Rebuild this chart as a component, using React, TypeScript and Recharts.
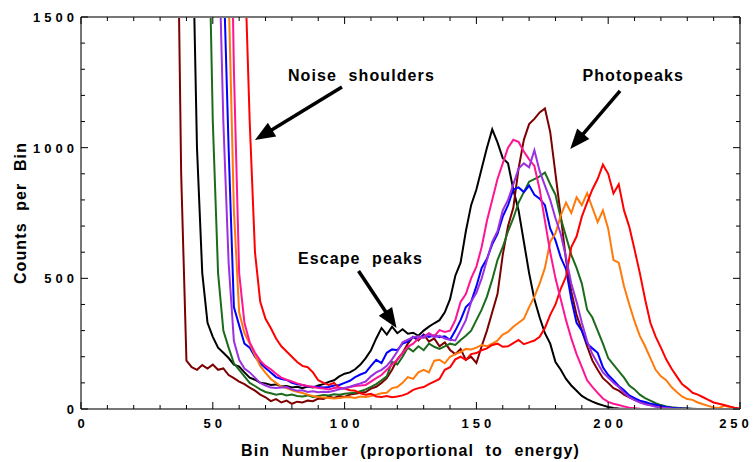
import React from 'react';
import { LineChart, Line, XAxis, YAxis, ReferenceLine, ReferenceDot } from 'recharts';

// Spectra sampled every 2 bins, starting at each series' own first bin.
const binStep = 2;

const maroonStart = 36;
const maroonCounts = [
  2400, 900, 185, 160, 150, 168, 155, 170, 150, 155, 130, 118, 105, 95, 82, 70, 55, 45, 30, 38,
  25, 32, 20, 28, 25, 32, 30, 40, 38, 48, 42, 50, 46, 55, 58, 62, 65, 78, 85, 100,
  118, 150, 190, 215, 250, 276, 262, 285, 258, 270, 240, 255, 226, 210, 230, 188, 200, 176, 240, 300,
  370, 440, 590, 700, 770, 920, 1030, 1090, 1110, 1135, 1150, 1060, 900, 740, 570, 450, 360, 300, 240, 185,
  150, 118, 100, 80, 70, 55, 45, 35, 28, 20, 15, 12, 8, 6, 4, 3, 2, 1, 0, 0,
  0, 0, 0, 0, 0, 0, 0,
];

const blackStart = 42;
const blackCounts = [
  2000, 1000, 520, 330, 276, 235, 215, 195, 170, 162, 140, 120, 112, 100, 98, 92, 94, 86, 88, 82,
  85, 80, 86, 82, 90, 95, 104, 110, 125, 135, 140, 152, 170, 195, 225, 270, 310, 285, 315, 290,
  305, 288, 292, 280, 300, 315, 328, 340, 370, 420, 510, 560, 680, 780, 840, 920, 1000, 1070, 1020, 960,
  940, 840, 760, 640, 520, 420, 350, 290, 250, 180, 150, 115, 90, 70, 50, 38, 28, 20, 14, 8,
  4, 2, 1, 0, 0, 0, 0, 0, 0, 0, 0, 0, 0, 0, 0, 0, 0, 0, 0, 0,
  0, 0, 0, 0,
];

const greenStart = 48;
const greenCounts = [
  2100, 1100, 520, 300, 235, 175, 150, 125, 100, 88, 75, 65, 60, 55, 58, 52, 55, 50, 48, 52,
  46, 50, 54, 52, 56, 55, 58, 60, 62, 68, 75, 85, 95, 110, 125, 180, 170, 200, 235, 220,
  240, 225, 250, 238, 230, 240, 250, 245, 264, 280, 300, 340, 380, 430, 495, 570, 620, 680, 730, 790,
  830, 870, 880, 890, 905, 860, 820, 730, 660, 590, 540, 480, 380, 350, 300, 250, 195, 170, 145, 120,
  90, 75, 55, 42, 32, 22, 15, 10, 7, 5, 3, 2, 1, 0, 0, 0, 0, 0, 0, 0,
  0, 0,
];

const purpleStart = 52;
const purpleCounts = [
  1900, 1100, 560, 260, 188, 155, 140, 120, 100, 90, 82, 80, 82, 84, 75, 70, 72, 65, 68, 64,
  66, 65, 70, 75, 80, 85, 92, 98, 105, 125, 140, 150, 165, 190, 220, 255, 265, 275, 278, 272,
  285, 275, 280, 270, 265, 262, 300, 340, 410, 445, 500, 570, 640, 680, 760, 800, 860, 920, 940, 925,
  990, 910, 855, 800, 730, 670, 580, 480, 410, 330, 260, 210, 175, 140, 120, 100, 84, 62, 45, 34,
  25, 18, 14, 9, 6, 4, 2, 1, 0, 0, 0, 0, 0, 0, 0, 0, 0, 0, 0, 0,
];

const blueStart = 54;
const blueCounts = [
  1700, 1000, 390, 320, 250, 235, 200, 175, 157, 140, 122, 115, 111, 100, 95, 92, 86, 85, 84, 82,
  84, 90, 92, 100, 108, 122, 132, 140, 165, 188, 176, 215, 228, 225, 250, 258, 276, 268, 283, 276,
  282, 275, 278, 265, 300, 340, 390, 410, 470, 540, 575, 630, 670, 736, 780, 840, 848, 830, 855, 820,
  805, 780, 690, 645, 580, 535, 420, 330, 300, 250, 232, 215, 160, 130, 110, 88, 72, 52, 42, 32,
  27, 20, 16, 12, 8, 5, 3, 2, 1, 0, 0, 0, 0, 0, 0, 0, 0, 0, 0,
];

const orangeStart = 56;
const orangeCounts = [
  1600, 760, 370, 290, 250, 205, 165, 138, 115, 100, 85, 80, 72, 66, 61, 55, 50, 46, 44, 42,
  40, 42, 45, 46, 42, 48, 46, 50, 55, 60, 62, 80, 84, 100, 122, 115, 140, 150, 140, 185,
  188, 175, 200, 210, 218, 230, 228, 235, 245, 240, 250, 262, 285, 295, 315, 330, 345, 390, 430, 480,
  540, 640, 672, 740, 790, 750, 810, 780, 826, 770, 715, 760, 690, 570, 560, 470, 400, 335, 280, 240,
  195, 150, 125, 110, 84, 65, 48, 38, 35, 25, 18, 12, 6, 4, 12, 8, 3, 0,
];

const pinkStart = 56;
const pinkCounts = [
  2500, 1300, 520, 330, 255, 215, 185, 165, 152, 135, 120, 112, 105, 98, 92, 88, 84, 80, 78, 75,
  80, 82, 78, 84, 88, 90, 92, 105, 118, 130, 150, 170, 188, 215, 238, 250, 270, 276, 290, 278,
  302, 295, 300, 340, 410, 440, 500, 545, 620, 720, 800, 880, 940, 1000, 1030, 1022, 985, 955, 930, 840,
  720, 600, 500, 420, 340, 270, 210, 160, 110, 85, 62, 40, 27, 20, 15, 10, 5, 3, 1, 0,
  0, 0, 0, 0, 0, 0, 0, 0, 0, 0, 0, 0, 0, 0, 0, 0, 0, 0,
];

const redStart = 62;
const redCounts = [
  1750, 1100, 600, 410, 345, 310, 270, 240, 220, 200, 180, 165, 160, 140, 110, 100, 92, 100, 80, 78,
  72, 70, 60, 55, 58, 48, 46, 50, 45, 48, 52, 60, 73, 80, 84, 95, 105, 115, 150, 160,
  190, 200, 188, 210, 214, 225, 232, 245, 250, 238, 240, 252, 264, 248, 255, 262, 276, 310, 360, 400,
  460, 506, 620, 660, 736, 790, 840, 880, 935, 900, 825, 860, 760, 697, 610, 520, 420, 330, 277, 235,
  190, 155, 125, 95, 80, 62, 55, 45, 35, 25, 20, 15, 10, 5, 2,
];

const xTicks = [0, 10, 20, 30, 40, 50, 60, 70, 80, 90, 100, 110, 120, 130, 140, 150, 160, 170, 180, 190, 200, 210, 220, 230, 240, 250];
const yTicks = [0, 100, 200, 300, 400, 500, 600, 700, 800, 900, 1000, 1100, 1200, 1300, 1400, 1500];

const seriesList = [
  { key: 'black', color: '#000000', start: blackStart, counts: blackCounts },
  { key: 'maroon', color: '#7d0000', start: maroonStart, counts: maroonCounts },
  { key: 'green', color: '#1c6b1c', start: greenStart, counts: greenCounts },
  { key: 'blue', color: '#0000ff', start: blueStart, counts: blueCounts },
  { key: 'orange', color: '#ff7a0a', start: orangeStart, counts: orangeCounts },
  { key: 'red', color: '#ff0000', start: redStart, counts: redCounts },
  { key: 'pink', color: '#ff1493', start: pinkStart, counts: pinkCounts },
  { key: 'purple', color: '#9b30e0', start: purpleStart, counts: purpleCounts },
];

const annotations = [
  { text: 'Noise shoulders', textBin: 106.4, textCount: 1278, fromBin: 99, fromCount: 1232, toBin: 66, toCount: 1029 },
  { text: 'Photopeaks', textBin: 209.5, textCount: 1278, fromBin: 204.5, fromCount: 1217, toBin: 185.6, toCount: 995 },
  { text: 'Escape peaks', textBin: 106, textCount: 578, fromBin: 105.3, fromCount: 528, toBin: 119.7, toCount: 310 },
];

const rows = (() => {
  const out: any[] = [];
  for (let bin = 0; bin <= 250; bin += binStep) {
    const row: any = { bin };
    seriesList.forEach((s) => {
      const i = (bin - s.start) / binStep;
      if (i >= 0 && i < s.counts.length) row[s.key] = s.counts[i];
    });
    out.push(row);
  }
  return out;
})();

const font = '"Liberation Sans", Arial, Helvetica, sans-serif';
const frame = '#777777';
const tickText = { fontFamily: font, fontWeight: 'bold' as const, fontSize: 13, letterSpacing: 4, fill: '#000' };
const titleStyle = { fontFamily: font, fontWeight: 'bold', fontSize: 16, letterSpacing: 1.1, wordSpacing: 6, fill: '#000' };

const BottomTick = (props: any) => {
  const { x, y, payload } = props;
  const major = payload.value % 50 === 0;
  // keep the last label inside the picture
  const lx = Math.min(x + 2, 736);
  return (
    <g>
      <line x1={x} y1={y} x2={x} y2={y - (major ? 7 : 4)} stroke="#000" strokeWidth={1} />
      {major && (
        <text x={lx} y={y + 19} textAnchor="middle" {...tickText}>
          {payload.value}
        </text>
      )}
    </g>
  );
};

const TopTick = (props: any) => {
  const { x, y, payload } = props;
  const major = payload.value % 50 === 0;
  return <line x1={x} y1={y} x2={x} y2={y + (major ? 7 : 4)} stroke="#000" strokeWidth={1} />;
};

const LeftTick = (props: any) => {
  const { x, y, payload } = props;
  const major = payload.value % 500 === 0;
  return (
    <g>
      <line x1={x} y1={y} x2={x + (major ? 7 : 4)} y2={y} stroke="#000" strokeWidth={1} />
      {major && (
        <text x={x - 3} y={y + 5} textAnchor="end" {...tickText}>
          {payload.value}
        </text>
      )}
    </g>
  );
};

const RightTick = (props: any) => {
  const { x, y, payload } = props;
  const major = payload.value % 500 === 0;
  return <line x1={x} y1={y} x2={x - (major ? 7 : 4)} y2={y} stroke="#000" strokeWidth={1} />;
};

const ArrowShape = (props: any) => {
  const { x1, y1, x2, y2 } = props;
  const ang = Math.atan2(y2 - y1, x2 - x1);
  const headLen = 20;
  const headW = 8;
  const bx = x2 - headLen * Math.cos(ang);
  const by = y2 - headLen * Math.sin(ang);
  const px = -Math.sin(ang) * headW;
  const py = Math.cos(ang) * headW;
  return (
    <g>
      <line x1={x1} y1={y1} x2={bx + 2 * Math.cos(ang)} y2={by + 2 * Math.sin(ang)} stroke="#000" strokeWidth={3.5} />
      <polygon points={`${x2},${y2} ${bx + px},${by + py} ${bx - px},${by - py}`} fill="#000" />
    </g>
  );
};

export default function App() {
  return (
    <div style={{ position: 'absolute', left: 0, top: 0, width: 754, height: 462, background: '#fff' }}>
      <LineChart width={754} height={462} data={rows} margin={{ top: 0, right: 0, bottom: 0, left: 0 }}>
        <XAxis
          xAxisId="b"
          dataKey="bin"
          type="number"
          domain={[0, 250]}
          ticks={xTicks}
          allowDataOverflow
          height={53}
          tickSize={0}
          tickMargin={0}
          tickLine={false}
          axisLine={{ stroke: frame, strokeWidth: 2 }}
          tick={<BottomTick />}
          interval={0}
          label={{ value: 'Bin Number (proportional to energy)', position: 'insideBottom', offset: 6, style: titleStyle }}
        />
        <XAxis
          xAxisId="t"
          orientation="top"
          dataKey="bin"
          type="number"
          domain={[0, 250]}
          ticks={xTicks}
          allowDataOverflow
          height={17}
          tickSize={0}
          tickMargin={0}
          tickLine={false}
          axisLine={{ stroke: frame, strokeWidth: 2 }}
          tick={<TopTick />}
          interval={0}
        />
        <YAxis
          yAxisId="l"
          type="number"
          domain={[0, 1500]}
          ticks={yTicks}
          allowDataOverflow
          width={81}
          tickSize={0}
          tickMargin={0}
          tickLine={false}
          axisLine={{ stroke: frame, strokeWidth: 2 }}
          tick={<LeftTick />}
          interval={0}
          label={{ value: 'Counts per Bin', angle: -90, position: 'center', dx: -20, style: titleStyle }}
        />
        <YAxis
          yAxisId="r"
          orientation="right"
          type="number"
          domain={[0, 1500]}
          ticks={yTicks}
          allowDataOverflow
          width={14}
          tickSize={0}
          tickMargin={0}
          tickLine={false}
          axisLine={{ stroke: frame, strokeWidth: 2 }}
          tick={<RightTick />}
          interval={0}
        />
        {seriesList.map((s) => (
          <Line
            key={s.key}
            xAxisId="b"
            yAxisId="l"
            type="linear"
            dataKey={s.key}
            stroke={s.color}
            strokeWidth={2}
            dot={false}
            activeDot={false}
            isAnimationActive={false}
          />
        ))}
        {annotations.map((a) => (
          <ReferenceLine
            key={`arrow-${a.text}`}
            xAxisId="b"
            yAxisId="l"
            segment={[
              { x: a.fromBin, y: a.fromCount },
              { x: a.toBin, y: a.toCount },
            ]}
            ifOverflow="visible"
            shape={ArrowShape}
          />
        ))}
        {annotations.map((a) => (
          <ReferenceDot
            key={`text-${a.text}`}
            xAxisId="b"
            yAxisId="l"
            x={a.textBin}
            y={a.textCount}
            r={0}
            fill="none"
            stroke="none"
            ifOverflow="visible"
            label={{ value: a.text, position: 'center', style: titleStyle }}
          />
        ))}
      </LineChart>
    </div>
  );
}
